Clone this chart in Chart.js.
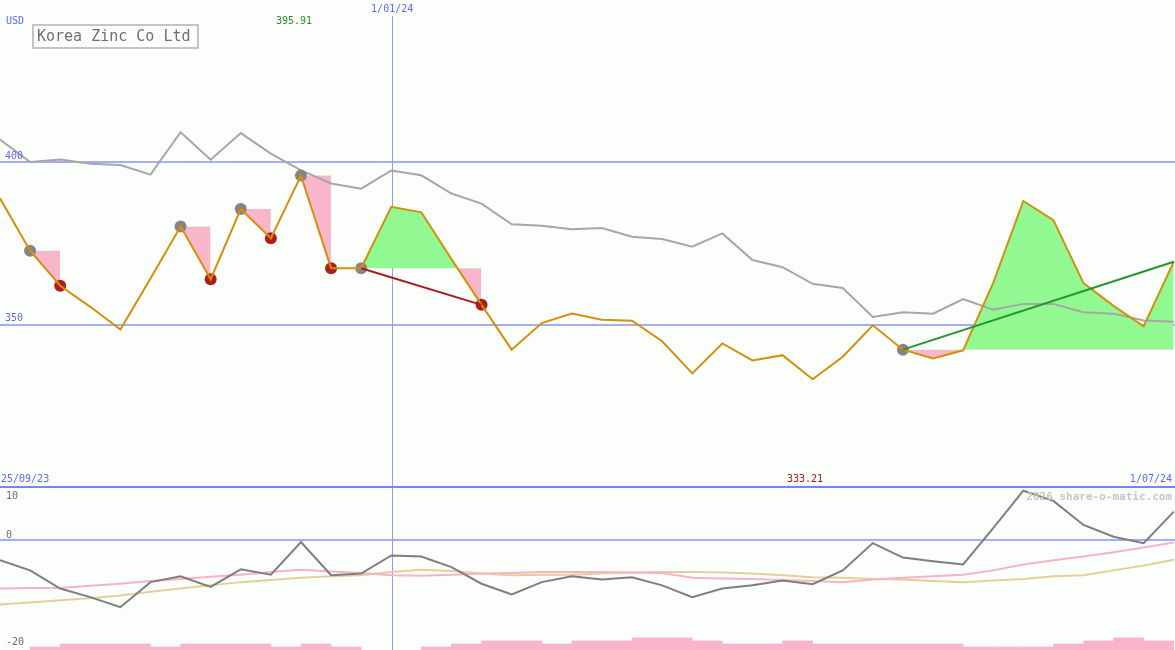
<!DOCTYPE html>
<html>
<head>
<meta charset="utf-8">
<script src="https://cdn.jsdelivr.net/npm/chart.js@4.4.1/dist/chart.umd.min.js"></script>
<style>
  body { margin: 0; background: #fcfefc; }
  #wrap { position: relative; width: 1175px; height: 650px; overflow: hidden; background: #fcfefc; }
  #wrap canvas { position: absolute; left: 0; }
  #top { top: 0; }
  #bottom { top: 487px; }
  #rule { position: absolute; left: 0; top: 486px; width: 1175px; height: 2px; background: #7585ec; }
</style>
</head>
<body>
<div id="wrap">
  <canvas id="top" width="1175" height="487"></canvas>
  <canvas id="bottom" width="1175" height="163"></canvas>
  <div id="rule"></div>
</div>
<script>
// weekly closes, USD
const price = [388.9, 372.8, 362.0, 355.5, 348.5, 364.2, 380.2, 364.0, 385.6, 376.6,
  395.91, 367.4, 367.4, 386.3, 384.6, 370.2, 356.1, 342.3, 350.5, 353.4,
  351.5, 351.2, 344.9, 335.0, 344.2, 339.0, 340.6, 333.21, 340.1, 349.8,
  342.3, 339.6, 342.1, 362.9, 388.1, 382.2, 362.8, 355.8, 349.5, 369.4]
// moving average (grey)
const average = [407.0, 400.1, 400.9, 399.6, 399.2, 396.2, 409.3, 400.8, 409.0, 402.7,
  397.5, 393.5, 391.9, 397.5, 396.0, 390.4, 387.3, 380.9, 380.5, 379.4,
  379.8, 377.1, 376.4, 374.0, 378.1, 369.9, 367.7, 362.6, 361.3, 352.4,
  353.8, 353.4, 357.9, 354.6, 356.4, 356.4, 353.8, 353.4, 351.3, 350.9]
// lower panel
const momentum = [-3.7, -5.6, -9.0, -10.6, -12.5, -7.8, -6.7, -8.7, -5.4, -6.4,
  -0.3, -6.5, -6.2, -2.8, -3.0, -5.0, -8.1, -10.1, -7.8, -6.7,
  -7.3, -6.9, -8.4, -10.6, -9.0, -8.4, -7.5, -8.2, -5.6, -0.5,
  -3.2, -3.9, -4.5, 2.3, 9.3, 7.4, 2.9, 0.7, -0.5, 5.4]
const momentumFast = [-9.0, -8.9, -8.9, -8.5, -8.1, -7.6, -7.2, -6.8, -6.4, -5.9,
  -5.5, -5.8, -6.1, -6.5, -6.6, -6.4, -6.2, -6.1, -5.9, -5.9,
  -5.9, -6.0, -6.1, -7.0, -7.1, -7.2, -7.4, -7.6, -7.8, -7.3,
  -7.0, -6.7, -6.4, -5.6, -4.5, -3.7, -3.0, -2.2, -1.3, -0.4]
const momentumSlow = [-12.0, -11.6, -11.2, -10.8, -10.3, -9.6, -9.0, -8.4, -7.8, -7.4,
  -7.0, -6.7, -6.5, -5.9, -5.5, -5.7, -6.2, -6.5, -6.4, -6.4,
  -6.2, -6.0, -5.9, -5.9, -6.0, -6.2, -6.5, -6.9, -7.0, -7.2,
  -7.3, -7.6, -7.8, -7.5, -7.2, -6.7, -6.5, -5.6, -4.7, -3.6]
const volume = [null, 1, 2, 2, 2, 1, 2, 2, 2, 1,
  2, 1, null, null, 1, 2, 3, 3, 2, 3,
  3, 4, 4, 3, 2, 2, 3, 2, 2, 2,
  2, 2, 1, 1, 1, 2, 3, 4, 3, null]

// signals: [entry week, exit week]
const trades = [[1, 2], [6, 7], [8, 9], [10, 11], [12, 16], [30, 39]]
const entryWeeks = [1, 6, 8, 10, 12, 30]
const exitWeeks = [2, 7, 9, 11, 16]
const trendTrades = [[12, 16], [30, 39]]

const yearWeek = 13.03
const dateLabels = ['25/09/23', '1/01/24', '1/07/24']
const priceTicks = [400, 350]
const oscTicks = [10, 0, -20]
const highLabel = '395.91'
const lowLabel = '333.21'
const title = 'Korea Zinc Co Ltd'

const weeks = price.map((_, i) => i)
const xMax = 39.04
const blue = '#5a6cf0'
const gridBlue = '#a4aef6'
const dayBlue = '#8e9cf6'
const mono = '"DejaVu Sans Mono", monospace'

// two level/path pairs so neighbouring trades never join up
function tradeSeries (group) {
  const level = weeks.map(() => null)
  const path = weeks.map(() => null)
  group.forEach(([a, b]) => {
    for (let i = a; i <= b; i++) {
      level[i] = price[a]
      path[i] = price[i]
    }
  })
  return { level, path }
}
const seriesA = tradeSeries(trades.filter((_, k) => k % 2 === 0))
const seriesB = tradeSeries(trades.filter((_, k) => k % 2 === 1))

const plain = { pointRadius: 0, borderWidth: 0, borderColor: 'rgba(0,0,0,0)', fill: false, order: 10 }

const topDecor = {
  id: 'topDecor',
  beforeDatasetsDraw (chart) {
    const { ctx, scales: { x, y } } = chart
    ctx.save()
    ctx.strokeStyle = gridBlue
    ctx.lineWidth = 2
    priceTicks.forEach(v => {
      const py = Math.round(y.getPixelForValue(v))
      ctx.beginPath(); ctx.moveTo(0, py); ctx.lineTo(chart.width, py); ctx.stroke()
    })
    ctx.strokeStyle = dayBlue
    ctx.lineWidth = 1
    const px = Math.floor(x.getPixelForValue(yearWeek)) + 0.5
    ctx.beginPath(); ctx.moveTo(px, 16); ctx.lineTo(px, chart.height); ctx.stroke()
    ctx.restore()
  },
  afterDraw (chart) {
    const { ctx, scales: { x, y } } = chart
    ctx.save()
    ctx.font = '10px ' + mono
    ctx.textBaseline = 'middle'
    ctx.fillStyle = blue
    ctx.fillText('USD', 6, 21)
    priceTicks.forEach(v => ctx.fillText(String(v), 5, y.getPixelForValue(v) - 6))
    ctx.textAlign = 'center'
    ctx.fillText(dateLabels[1], x.getPixelForValue(yearWeek), 9)
    ctx.textAlign = 'left'
    ctx.fillText(dateLabels[0], 1, 479)
    ctx.textAlign = 'right'
    ctx.fillText(dateLabels[2], 1172, 479)
    ctx.textAlign = 'center'
    ctx.fillStyle = '#2a8f2a'
    ctx.fillText(highLabel, 294, 21)
    ctx.fillStyle = '#a01c1c'
    ctx.fillText(lowLabel, 805, 479)
    // title box
    ctx.strokeStyle = '#c4c4c4'
    ctx.lineWidth = 2
    ctx.strokeRect(33, 25, 165, 23)
    ctx.font = '15px ' + mono
    ctx.textAlign = 'left'
    ctx.fillStyle = '#6e6e6e'
    ctx.fillText(title, 37, 37)
    ctx.restore()
  }
}

const priceChart = new Chart(document.getElementById('top'), {
  type: 'line',
  data: {
    labels: weeks,
    datasets: [
      { ...plain, data: seriesA.level },
      { ...plain, data: seriesA.path, fill: { target: 0, above: '#92f892', below: '#f9b6cb' } },
      { ...plain, data: seriesB.level },
      { ...plain, data: seriesB.path, fill: { target: 2, above: '#92f892', below: '#f9b6cb' } },
      { data: average, borderColor: '#a6a6a6', borderWidth: 2, pointRadius: 0, order: 6 },
      {
        data: entryWeeks.map(i => ({ x: i, y: price[i] })),
        showLine: false,
        pointRadius: 6,
        pointBackgroundColor: '#858585',
        pointBorderWidth: 0,
        order: 5
      },
      {
        data: exitWeeks.map(i => ({ x: i, y: price[i] })),
        showLine: false,
        pointRadius: 6,
        pointBackgroundColor: '#ac1e1e',
        pointBorderWidth: 0,
        order: 5
      },
      { data: price, borderColor: '#d4900c', borderWidth: 2, pointRadius: 0, order: 3 },
      ...trendTrades.map(([a, b]) => ({
        data: [{ x: a, y: price[a] }, { x: b, y: price[b] }],
        borderColor: price[b] > price[a] ? '#22962a' : '#a41c1c',
        borderWidth: 2,
        pointRadius: 0,
        order: 2
      }))
    ]
  },
  options: {
    responsive: false,
    animation: false,
    events: [],
    layout: { padding: 0, autoPadding: false },
    plugins: { legend: { display: false }, tooltip: { enabled: false } },
    elements: { line: { tension: 0 } },
    scales: {
      x: { type: 'linear', display: false, min: 0, max: xMax },
      y: { display: false, min: 300, max: 450 }
    }
  },
  plugins: [topDecor]
})

const bottomDecor = {
  id: 'bottomDecor',
  beforeDatasetsDraw (chart) {
    const { ctx, scales: { x, y } } = chart
    ctx.save()
    ctx.strokeStyle = gridBlue
    ctx.lineWidth = 2
    const py = Math.round(y.getPixelForValue(0))
    ctx.beginPath(); ctx.moveTo(0, py); ctx.lineTo(chart.width, py); ctx.stroke()
    ctx.strokeStyle = dayBlue
    ctx.lineWidth = 1
    const px = Math.floor(x.getPixelForValue(yearWeek)) + 0.5
    ctx.beginPath(); ctx.moveTo(px, 0); ctx.lineTo(px, chart.height); ctx.stroke()
    ctx.restore()
  },
  afterDraw (chart) {
    const { ctx } = chart
    ctx.save()
    ctx.font = '10px ' + mono
    ctx.textBaseline = 'middle'
    ctx.fillStyle = '#6e6e6e'
    ctx.fillText(String(oscTicks[0]), 6, 9)
    ctx.fillText(String(oscTicks[1]), 6, 48)
    ctx.fillText(String(oscTicks[2]), 6, 155)
    ctx.font = 'bold 11px ' + mono
    ctx.textAlign = 'right'
    ctx.fillStyle = '#c6c6c6'
    ctx.fillText('2026 share-o-matic.com', 1172, 10)
    ctx.restore()
  }
}

const oscChart = new Chart(document.getElementById('bottom'), {
  type: 'line',
  data: {
    labels: weeks,
    datasets: [
      {
        type: 'bar',
        data: weeks.filter(i => volume[i] !== null).map(i => ({ x: i + 0.5, y: volume[i] })),
        backgroundColor: '#f9b6cb',
        barPercentage: 1,
        categoryPercentage: 1,
        yAxisID: 'yv',
        order: 9
      },
      { data: momentumSlow, borderColor: '#e4cf9c', borderWidth: 2, pointRadius: 0, order: 5 },
      { data: momentumFast, borderColor: '#f8b2c8', borderWidth: 2, pointRadius: 0, order: 4 },
      { data: momentum, borderColor: '#7e7e7e', borderWidth: 2, pointRadius: 0, order: 3 }
    ]
  },
  options: {
    responsive: false,
    animation: false,
    events: [],
    layout: { padding: 0, autoPadding: false },
    plugins: { legend: { display: false }, tooltip: { enabled: false } },
    elements: { line: { tension: 0 } },
    scales: {
      x: { type: 'linear', display: false, min: 0, max: xMax, offset: false },
      y: { display: false, min: -20.5, max: 10 },
      yv: { display: false, min: 0, max: 54 }
    }
  },
  plugins: [bottomDecor]
})
</script>
</body>
</html>
